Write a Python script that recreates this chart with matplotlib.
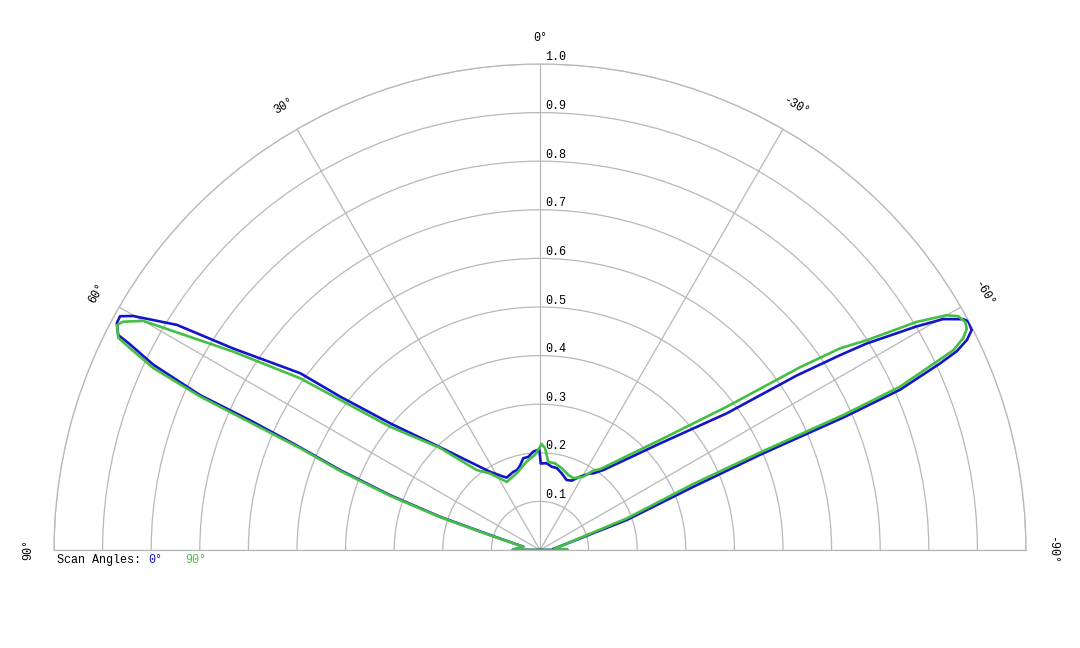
import numpy as np
import matplotlib
matplotlib.use("Agg")
import matplotlib.pyplot as plt
from matplotlib.transforms import offset_copy

# ---- data (angle in degrees, relative intensity) ----
blue_theta = [-90, -89.5, -85.6, -79.5, -70.9, -67.6, -66.6, -66.4, -66.0, -65.0,
              -64.5, -63.8, -63.0, -61.9, -61.4, -60.2, -59.3, -57.7, -57.0, -55.8,
              -53.8, -48.4, -38.4, -34.8, -33.1, -28.6, -24.6, -20.9, -15.8, -11.6,
              -8.0, -4.4, -0.5, 0.4, 3.9, 7.2, 10.3, 13.4, 16.2, 18.8,
              24.7, 26.6, 32.6, 44.2, 49.8, 52.5, 53.6, 56.7, 58.2, 60.1,
              60.9, 61.8, 63.0, 63.3, 64.4, 65.5, 65.9, 66.7, 68.2, 69.9,
              71.6, 73.3, 78.8, 89.5, 90]
blue_r = [0.0, 0.056, 0.027, 0.042, 0.189, 0.341, 0.493, 0.684, 0.811, 0.908,
          0.950, 0.979, 0.997, 0.999, 0.992, 0.956, 0.901, 0.795, 0.736, 0.639,
          0.476, 0.330, 0.210, 0.192, 0.188, 0.172, 0.157, 0.154, 0.164, 0.172,
          0.173, 0.179, 0.178, 0.207, 0.203, 0.193, 0.192, 0.178, 0.171, 0.170,
          0.164, 0.169, 0.191, 0.295, 0.404, 0.519, 0.613, 0.755, 0.879, 0.966,
          0.989, 0.988, 0.974, 0.948, 0.882, 0.769, 0.654, 0.549, 0.443, 0.329,
          0.217, 0.107, 0.035, 0.056, 0.0]

green_theta = [-90, -89.5, -84.3, -79.0, -70.0, -66.7, -66.1, -66.0, -65.6, -64.6,
               -64.2, -63.4, -62.6, -61.8, -60.8, -60.0, -58.8, -57.3, -56.1, -54.9,
               -52.5, -47.5, -36.6, -33.9, -30.6, -24.9, -20.7, -14.9, -9.8, -5.4,
               -2.8, -0.9, 3.0, 8.6, 16.9, 26.0, 33.1, 38.4, 44.4, 50.6,
               54.4, 57.1, 60.0, 61.3, 62.0, 63.3, 63.8, 64.8, 65.7, 67.0,
               68.4, 70.1, 71.8, 73.6, 79.0, 89.5, 90]
green_r = [0.0, 0.056, 0.031, 0.044, 0.190, 0.343, 0.495, 0.687, 0.813, 0.904,
           0.945, 0.974, 0.989, 0.993, 0.986, 0.966, 0.906, 0.799, 0.744, 0.654,
           0.484, 0.335, 0.207, 0.197, 0.175, 0.163, 0.165, 0.174, 0.181, 0.182,
           0.210, 0.218, 0.196, 0.184, 0.165, 0.156, 0.188, 0.210, 0.294, 0.400,
           0.607, 0.751, 0.943, 0.978, 0.986, 0.971, 0.940, 0.879, 0.767, 0.536,
           0.443, 0.329, 0.216, 0.107, 0.035, 0.056, 0.0]

ring_values = [0.1, 0.2, 0.3, 0.4, 0.5, 0.6, 0.7, 0.8, 0.9, 1.0]
ring_labels = ["0.1", "0.2", "0.3", "0.4", "0.5", "0.6", "0.7", "0.8", "0.9", "1.0"]
spoke_angles = [-90, -60, -30, 0, 30, 60, 90]
spoke_labels = ["-90°", "-60°", "-30°", "0°", "30°", "60°", "90°"]
legend_title = "Scan Angles:"
series_names = ["0°", "90°"]

BLUE = "#1414c8"
GREEN = "#44bf44"
GRID = "#b8b8b8"
FONT = "Liberation Mono"

fig = plt.figure(figsize=(10.8, 6.48), dpi=100)
fig.patch.set_facecolor("white")
# square box; the half-disc fills its width and is centred vertically
ax = fig.add_axes([54 / 1080, -145 / 648, 972 / 1080, 972 / 648], projection="polar")
ax.set_theta_zero_location("N")
ax.set_theta_direction(1)
ax.set_thetamin(-90)
ax.set_thetamax(90)
ax.set_rlim(0, 1.0)
ax.patch.set_alpha(0)

ax.set_rticks(ring_values)
ax.set_xticks(np.deg2rad(spoke_angles))
ax.set_yticklabels([])
ax.set_xticklabels([])
ax.tick_params(length=0)
ax.grid(True, color=GRID, linewidth=0.9)
for sp in ax.spines.values():
    sp.set_color(GRID)
    sp.set_linewidth(0.9)

ax.plot(np.deg2rad(blue_theta), blue_r, color=BLUE, linewidth=1.9, zorder=3)
ax.plot(np.deg2rad(green_theta), green_r, color=GREEN, linewidth=1.9, zorder=4)

# radial labels
tr = offset_copy(ax.transData, fig=fig, x=5, y=0.5, units="dots")
for v, lab in zip(ring_values, ring_labels):
    ax.text(0, v, lab, transform=tr, ha="left", va="bottom",
            fontsize=8.5, family=FONT, color="black", clip_on=False, zorder=5)

# angle labels
for a, lab in zip(spoke_angles, spoke_labels):
    ax.text(np.deg2rad(a), 1.054, lab, rotation=a, rotation_mode="anchor",
            ha="center", va="center", fontsize=8.5, family=FONT,
            color="black", clip_on=False)

# legend
ty = 1 - 560 / 648
fig.text(57 / 1080, ty, legend_title, ha="left", va="center",
         fontsize=8.5, family=FONT, color="black")
fig.text(148 / 1080, ty, series_names[0], ha="left", va="center",
         fontsize=8.5, family=FONT, color=BLUE)
fig.text(185 / 1080, ty, series_names[1], ha="left", va="center",
         fontsize=8.5, family=FONT, color=GREEN)

fig.savefig("out.png", dpi=100, facecolor="white")
